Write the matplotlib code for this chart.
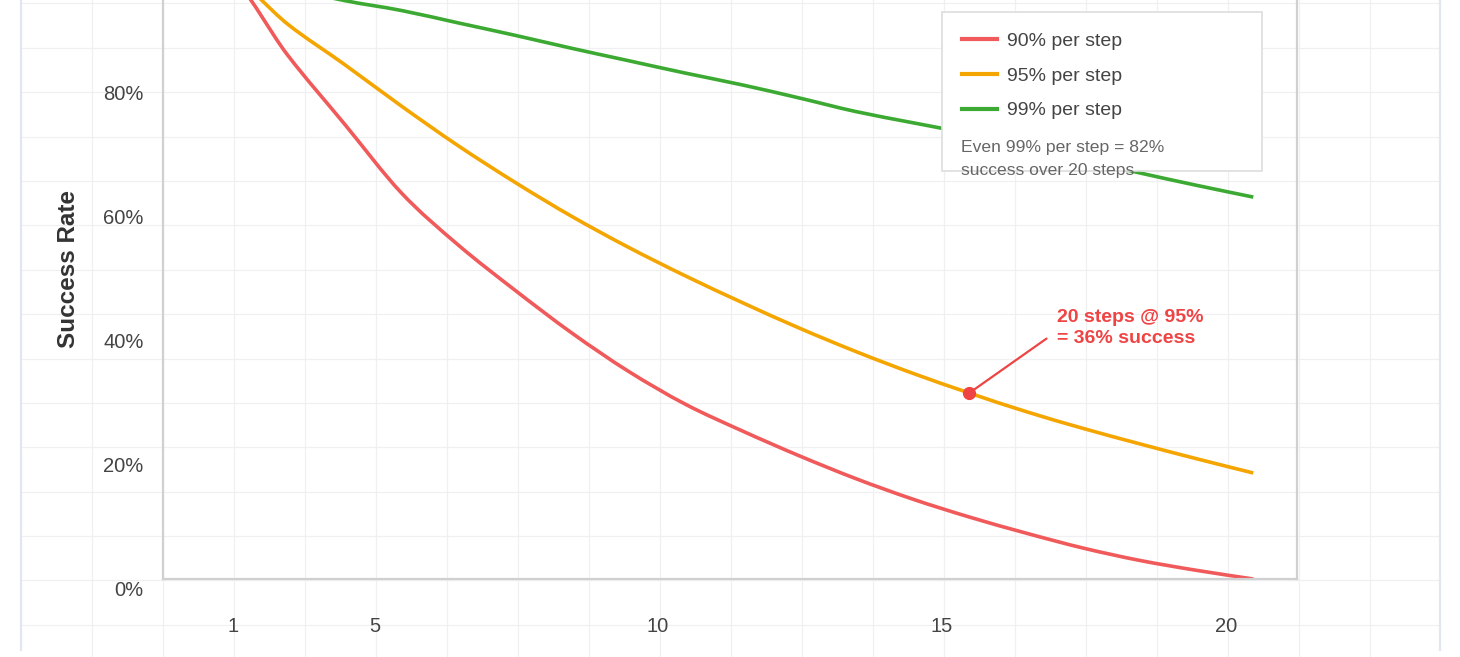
import matplotlib
matplotlib.use('Agg')
import matplotlib.pyplot as plt
from matplotlib.lines import Line2D
from matplotlib.patches import Rectangle, PathPatch
from matplotlib.path import Path
from matplotlib.transforms import ScaledTranslation

plt.rcParams['font.family'] = ['Liberation Sans', 'DejaVu Sans']

# chart data (success rate in %, per number of steps)
STEPS = list(range(1, 21))
RATE_90 = [100, 97.2, 84.5, 73.4, 62.3, 53.9, 46.6, 39.7, 33.5, 28.2,
           23.9, 19.9, 16.2, 12.9, 10.0, 7.4, 5.0, 3.0, 1.4, 0.0]
RATE_95 = [100, 97.5, 89.5, 83.0, 76.3, 69.9, 64.0, 58.5, 53.5, 48.9,
           44.6, 40.5, 36.7, 33.2, 30.0, 27.0, 24.3, 21.8, 19.4, 17.1]
RATE_99 = [100, 98.0, 95.4, 93.3, 91.7, 89.7, 87.7, 85.6, 83.6, 81.6,
           79.7, 77.6, 75.4, 73.6, 71.8, 69.7, 67.6, 65.5, 63.5, 61.6]
SERIES_LABELS = ['90% per step', '95% per step', '99% per step']
SERIES_COLORS = ['#f05a5a', '#f5a500', '#3caa32']

Y_TICKS = [0, 20, 40, 60, 80]
Y_TICK_LABELS = ['0%', '20%', '40%', '60%', '80%']
X_TICKS = [2.04, 4.54, 9.52, 14.52, 19.52]
X_TICK_LABELS = ['1', '5', '10', '15', '20']

HIGHLIGHT_STEP = 15
HIGHLIGHT_TEXT = '20 steps @ 95%\n= 36% success'
HIGHLIGHT_COLOR = '#ef4444'
NOTE_TEXT = 'Even 99% per step = 82%\nsuccess over 20 steps'

W, H, DPI = 1460, 657, 100


def fx(px):
    return px / W


def fy(py):
    return 1 - py / H


def smooth_path(xs, ys):
    """
    Curva di Bezier che passa per tutti i punti (Catmull-Rom).
    """
    pts = list(zip(xs, ys))
    n = len(pts)
    verts = [pts[0]]
    codes = [Path.MOVETO]
    for i in range(n - 1):
        p0 = pts[max(i - 1, 0)]
        p1 = pts[i]
        p2 = pts[i + 1]
        p3 = pts[min(i + 2, n - 1)]
        c1 = (p1[0] + (p2[0] - p0[0]) / 6, p1[1] + (p2[1] - p0[1]) / 6)
        c2 = (p2[0] - (p3[0] - p1[0]) / 6, p2[1] - (p3[1] - p1[1]) / 6)
        verts += [c1, c2, p2]
        codes += [Path.CURVE4] * 3
    return Path(verts, codes)


def draw_paper_grid(fig):
    """
    Griglia di sfondo tipo carta millimetrata.
    """
    for k in range(1, 20):
        x = fx(21 + 71 * k)
        fig.add_artist(Line2D([x, x], [0, 1], color='#f0f0f2', lw=0.9,
                              transform=fig.transFigure, zorder=-5))
    for k in range(0, 15):
        y = fy(3.3 + 44.4 * k)
        fig.add_artist(Line2D([fx(21), fx(1440)], [y, y], color='#f0f0f2',
                              lw=0.9, transform=fig.transFigure, zorder=-5))
    for x in (21, 1440):
        fig.add_artist(Line2D([fx(x), fx(x)], [fy(650), 1], color='#e2e6ef',
                              lw=1.6, transform=fig.transFigure, zorder=-4))


def plot_success_rate():
    fig = plt.figure(figsize=(W / DPI, H / DPI), dpi=DPI)
    fig.patch.set_facecolor('white')
    draw_paper_grid(fig)

    ax = fig.add_axes([fx(163), 78 / H, 1134 / W, 620 / H])
    ax.set_facecolor('none')

    handles = []
    for values, label, color in zip([RATE_90, RATE_95, RATE_99],
                                    SERIES_LABELS, SERIES_COLORS):
        ax.add_patch(PathPatch(smooth_path(STEPS, values), fill=False,
                               edgecolor=color, lw=2.6, capstyle='butt',
                               zorder=2))
        handles.append(Line2D([], [], color=color, lw=3, label=label))

    ax.set_xlim(0.806, 20.77)
    ax.set_ylim(0, 100)

    for side in ['left', 'bottom', 'right']:
        ax.spines[side].set_color('#d0d0d0')
        ax.spines[side].set_linewidth(1.6)
    ax.spines['top'].set_visible(False)

    ax.set_xticks(X_TICKS)
    ax.set_xticklabels(X_TICK_LABELS)
    ax.set_yticks(Y_TICKS)
    ax.set_yticklabels(Y_TICK_LABELS)
    ax.tick_params(axis='both', length=0, labelsize=14.5, colors='#444444')
    ax.tick_params(axis='x', pad=27)
    ax.tick_params(axis='y', pad=14)
    shift = ScaledTranslation(0, -10 / DPI, fig.dpi_scale_trans)
    for lab in ax.get_yticklabels():
        lab.set_transform(lab.get_transform() + shift)

    ax.set_ylabel('Success Rate', fontsize=17.5, fontweight='bold',
                  color='#333333')
    ax.yaxis.set_label_coords(-0.073, 0.5)

    # punto evidenziato con etichetta
    hy = RATE_95[STEPS.index(HIGHLIGHT_STEP)]
    ax.plot([HIGHLIGHT_STEP], [hy], 'o', ms=8.5, color=HIGHLIGHT_COLOR,
            zorder=4)
    ax.annotate(HIGHLIGHT_TEXT, xy=(HIGHLIGHT_STEP, hy), xytext=(88, 65),
                textcoords='offset pixels', ha='left', va='center',
                fontsize=14, fontweight='bold', color=HIGHLIGHT_COLOR,
                linespacing=1.3,
                arrowprops=dict(arrowstyle='-', color=HIGHLIGHT_COLOR,
                                lw=1.6, relpos=(0, 0.42), shrinkA=7,
                                shrinkB=0))

    # riquadro legenda
    ax.add_patch(Rectangle((fx(942), fy(171)), fx(1262) - fx(942),
                           fy(12) - fy(171), transform=fig.transFigure,
                           facecolor='white', edgecolor='#dddddd', lw=1.2,
                           clip_on=False, zorder=4))
    leg = ax.legend(handles=handles, loc='upper left',
                    bbox_to_anchor=(fx(942), fy(12)),
                    bbox_transform=fig.transFigure, frameon=False,
                    fontsize=14, handlelength=1.8, handletextpad=0.5,
                    labelspacing=0.88, borderpad=1.05, borderaxespad=0)
    for txt in leg.get_texts():
        txt.set_color('#444444')
    leg.set_zorder(5)

    ax.text(fx(961), fy(140), NOTE_TEXT, transform=fig.transFigure,
            ha='left', va='top', fontsize=12.6, color='#666666',
            linespacing=1.65, zorder=6)

    fig.savefig('out.png', dpi=DPI, facecolor='white')


if __name__ == '__main__':
    plot_success_rate()
